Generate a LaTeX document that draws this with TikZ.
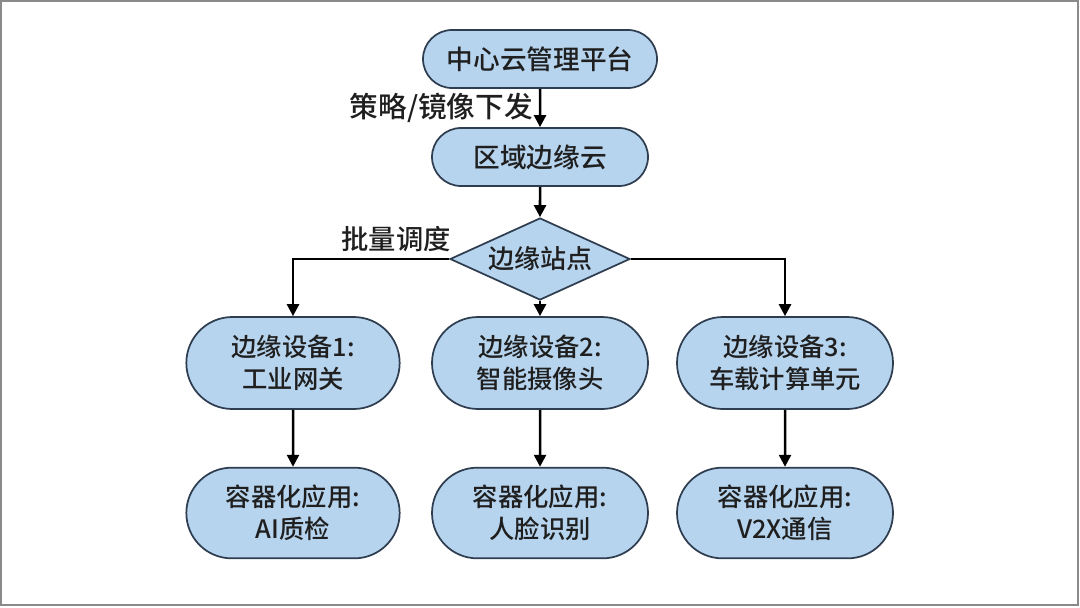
\documentclass[tikz,border=0pt]{standalone}
\usepackage{fontspec}
\setmainfont{Noto Sans CJK SC}
\newfontfamily\cjk{Noto Sans CJK SC}[BoldFont={Noto Sans CJK SC Medium}]
\usetikzlibrary{shapes.misc,shapes.geometric,arrows.meta}
\definecolor{boxfill}{HTML}{B7D4EE}
\definecolor{boxline}{HTML}{2E3D4F}
\definecolor{framegray}{HTML}{8A8A8A}
\tikzset{
  pill/.style={rounded rectangle, draw=boxline, fill=boxfill, line width=1.3pt,
    inner sep=0pt, align=center, font=\cjk\bfseries\fontsize{19}{24}\selectfont, text=black!88},
  decision/.style={diamond, draw=boxline, fill=boxfill, line width=1.3pt,
    inner sep=0pt, aspect=2.2, minimum width=135pt, minimum height=61.5pt,
    font=\cjk\bfseries\fontsize{19.5}{24}\selectfont, text=black!88},
  flow/.style={line width=1.9pt, draw=black, -{Triangle[length=9pt,width=9pt]}},
  lbl/.style={font=\cjk\bfseries\fontsize{20.5}{24}\selectfont, text=black!88}
}
\begin{document}
\begin{tikzpicture}[x=0.75pt,y=-0.75pt]
\useasboundingbox (0,0) rectangle (1080,607);
\draw[framegray, line width=1.6pt] (1.2,1.2) rectangle (1078.3,605.3);
\node[pill, minimum width=175.5pt, minimum height=43.5pt, font=\cjk\bfseries\fontsize{20}{24}\selectfont] (top) at (540,59) {中心云管理平台};
\node[pill, minimum width=162pt, minimum height=43.5pt, font=\cjk\bfseries\fontsize{20}{24}\selectfont] (reg) at (540,157) {区域边缘云};
\node[decision] (site) at (540,259) {边缘站点};
\node[pill, minimum width=160pt, minimum height=69pt] (d1) at (293,363) {边缘设备1:\\工业网关};
\node[pill, minimum width=162pt, minimum height=69pt] (d2) at (540,363) {边缘设备2:\\智能摄像头};
\node[pill, minimum width=162pt, minimum height=69pt] (d3) at (785,363) {边缘设备3:\\车载计算单元};
\node[pill, minimum width=160pt, minimum height=68pt] (a1) at (293,513) {容器化应用:\\AI质检};
\node[pill, minimum width=162pt, minimum height=68pt] (a2) at (540,513) {容器化应用:\\人脸识别};
\node[pill, minimum width=162pt, minimum height=68pt] (a3) at (785,513) {容器化应用:\\V2X通信};
\draw[flow] (top) -- node[lbl, left, xshift=-1pt, font=\cjk\bfseries\fontsize{21.5}{24}\selectfont] {策略/镜像下发} (reg);
\draw[flow] (reg) -- (site);
\draw[flow] (site.west) -| node[lbl, pos=0.17, above, yshift=1pt] {批量调度} (d1.north);
\draw[flow] (site.east) -| (d3.north);
\draw[flow] (site.south) -- (d2.north);
\draw[flow] (d1) -- (a1);
\draw[flow] (d2) -- (a2);
\draw[flow] (d3) -- (a3);
\end{tikzpicture}
\end{document}
